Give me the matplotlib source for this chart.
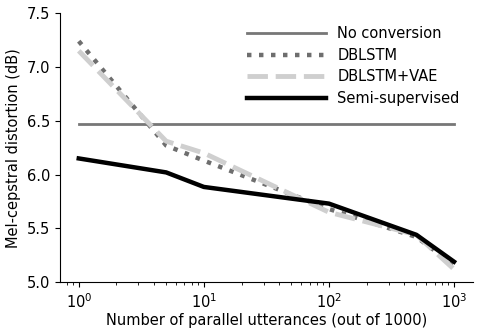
import matplotlib
matplotlib.use("Agg")
import matplotlib.pyplot as plt

plt.rcParams["font.family"] = ["DejaVu Sans"]

x_utts = [1, 5, 10, 100, 500, 1000]
no_conv_x = [1, 1000]
no_conv = [6.47, 6.47]
dblstm = [7.24, 6.27, 6.13, 5.68, 5.42, 5.16]
dblstm_vae = [7.15, 6.31, 6.20, 5.65, 5.44, 5.12]
semi = [6.15, 6.02, 5.885, 5.73, 5.44, 5.19]

fig = plt.figure(figsize=(4.8, 3.3), dpi=100)
ax = fig.add_axes([0.125, 0.145, 0.86, 0.815])

ax.plot(no_conv_x, no_conv, color="#777777", lw=2.0, label="No conversion")
ax.plot(x_utts, dblstm, color="#6e6e6e", lw=3.2, linestyle=(0, (1, 1.7)), label="DBLSTM")
ax.plot(x_utts, dblstm_vae, color="#cfcfcf", lw=3.5, linestyle=(0, (4.2, 1.6)), label="DBLSTM+VAE")
ax.plot(x_utts, semi, color="black", lw=3.2, label="Semi-supervised")

ax.set_xscale("log")
ax.set_ylim(5.0, 7.5)
ax.set_yticks([5.0, 5.5, 6.0, 6.5, 7.0, 7.5])
ax.set_yticklabels(["5.0", "5.5", "6.0", "6.5", "7.0", "7.5"])
ax.spines["top"].set_visible(False)
ax.spines["right"].set_visible(False)
ax.tick_params(labelsize=10.5)
ax.set_xlabel("Number of parallel utterances (out of 1000)", fontsize=10.5, labelpad=2)
ax.set_ylabel("Mel-cepstral distortion (dB)", fontsize=10.5)

ax.legend(loc="upper right", frameon=False, fontsize=10.5, handlelength=5.4,
          labelspacing=0.45, bbox_to_anchor=(1.0, 1.0))

fig.savefig("out.png", dpi=100)
